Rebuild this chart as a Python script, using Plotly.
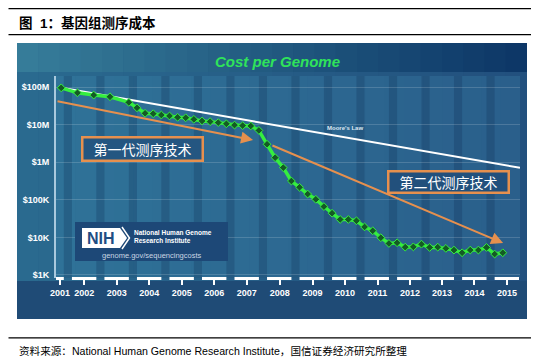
import plotly.graph_objects as go

# ---------------- data ----------------
dates = [2001.67, 2002.17, 2002.67, 2003.17, 2003.75,
         2004.00, 2004.25, 2004.50, 2004.75,
         2005.00, 2005.25, 2005.50, 2005.75,
         2006.00, 2006.25, 2006.50, 2006.75,
         2007.00, 2007.25, 2007.50, 2007.75,
         2008.00, 2008.25, 2008.50, 2008.75,
         2009.00, 2009.25, 2009.50, 2009.75,
         2010.00, 2010.25, 2010.50, 2010.75,
         2011.00, 2011.25, 2011.50, 2011.75,
         2012.00, 2012.25, 2012.50, 2012.75,
         2013.00, 2013.25, 2013.50, 2013.75,
         2014.00, 2014.25, 2014.50, 2014.75,
         2015.00, 2015.25]
cost = [95e6, 70e6, 61e6, 55e6, 39e6,
        28e6, 20e6, 19.5e6, 18e6,
        17e6, 15.6e6, 15.2e6, 13.8e6,
        12.5e6, 12e6, 11.3e6, 10.5e6,
        9.7e6, 9.4e6, 9.2e6, 7.0e6,
        3.0e6, 1.32e6, 716e3, 316e3,
        215e3, 142e3, 103e3, 66e3,
        44e3, 30e3, 30e3, 27.7e3,
        19e3, 15e3, 9.8e3, 6.9e3,
        7.2e3, 5.5e3, 5.6e3, 6.6e3,
        5.4e3, 5.5e3, 5.1e3, 4.6e3,
        3.9e3, 4.6e3, 4.6e3, 5.4e3,
        3.6e3, 3.9e3]

moore_x = [2001.67, 2015.78]
moore_y = [95e6, 7.1e5]

year_labels = ["2001", "2002", "2003", "2004", "2005", "2006", "2007", "2008",
               "2009", "2010", "2011", "2012", "2013", "2014", "2015"]
year_tick_pos = [2001.63, 2002.38, 2003.38, 2004.38, 2005.38, 2006.38, 2007.38, 2008.39,
                 2009.4, 2010.4, 2011.4, 2012.4, 2013.38, 2014.38, 2015.38]
cost_ticks = [1e3, 1e4, 1e5, 1e6, 1e7, 1e8]
cost_labels = ["$1K", "$10K", "$100K", "$1M", "$10M", "$100M"]

gen1_arrow = dict(tail=(2001.51, 7.63), head=(2007.57, 6.59))
gen2_arrow = dict(tail=(2008.12, 6.46), head=(2015.26, 3.85))

# ---------------- helpers ----------------
# the page body adds an 8px offset, so the figure is 536x352 and shifted
OFF = 8
W, H = 544 - OFF, 360 - OFF
def PX(x): return (x - OFF) / W
def PY(y): return 1 - (y - OFF) / H

def lerp_col(c1, c2, t):
    a = [int(c1[i:i + 2], 16) for i in (1, 3, 5)]
    b = [int(c2[i:i + 2], 16) for i in (1, 3, 5)]
    return "#%02x%02x%02x" % tuple(round(a[i] + (b[i] - a[i]) * t) for i in range(3))

def txt(x, y, text, size, color, family="Liberation Sans", xanchor="center", **kw):
    d = dict(xref="paper", yref="paper", x=PX(x), y=PY(y), text=text, showarrow=False,
             xanchor=xanchor, yanchor="middle",
             font=dict(family=family, size=size, color=color))
    d.update(kw)
    return d

X0, X1 = 2001.51, 2015.78
shapes = []
annos = []

# panel background
shapes.append(dict(type="rect", xref="paper", yref="paper", x0=PX(17), x1=PX(527),
                   y0=PY(319), y1=PY(43), fillcolor="#1f4b76", line=dict(width=0), layer="below"))
N = 24
for i in range(N):
    xa = 17 + (527 - 17) * i / N
    xb = 17 + (527 - 17) * (i + 1) / N + 0.6
    t = i / (N - 1)
    shapes.append(dict(type="rect", xref="paper", yref="paper", x0=PX(xa), x1=PX(min(xb, 527)),
                       y0=PY(72), y1=PY(43), fillcolor=lerp_col("#367c99", "#0d3767", t),
                       line=dict(width=0), layer="below"))
    shapes.append(dict(type="rect", xref="paper", yref="paper", x0=PX(xa), x1=PX(min(xb, 527)),
                       y0=PY(281), y1=PY(72), fillcolor=lerp_col("#2a6a8f", "#22507e", t),
                       line=dict(width=0), layer="below"))
# plot-area gradient
for i in range(N):
    xa = 56 + (520 - 56) * i / N
    xb = 56 + (520 - 56) * (i + 1) / N + 0.6
    t = i / (N - 1)
    shapes.append(dict(type="rect", xref="paper", yref="paper", x0=PX(xa), x1=PX(min(xb, 520)),
                       y0=PY(278), y1=PY(76), fillcolor=lerp_col("#2f7298", "#2a5f8b", t),
                       line=dict(width=0), layer="below"))
# darker quarterly stripes (Q4 of every year)
for yr in range(2001, 2015):
    shapes.append(dict(type="rect", xref="x", yref="paper", x0=yr + 0.75, x1=yr + 1.0,
                       y0=PY(278), y1=PY(76), fillcolor="rgba(15,45,85,0.26)",
                       line=dict(width=0), layer="below"))
# white broken baseline
segs = [(X0, 2001.75)] + [(yr, yr + 0.75) for yr in range(2002, 2016)]
for a, b in segs:
    shapes.append(dict(type="line", xref="x", yref="paper", x0=a, x1=min(b, X1),
                       y0=PY(278.5), y1=PY(278.5), line=dict(color="white", width=3)))

# rules
for yy in (8.6, 34.7, 337.8):
    shapes.append(dict(type="line", xref="paper", yref="paper", x0=PX(8.5), x1=PX(531),
                       y0=PY(yy), y1=PY(yy), line=dict(color="black", width=1.3)))

# NIH box
shapes.append(dict(type="rect", xref="paper", yref="paper", x0=PX(75), x1=PX(228),
                   y0=PY(261), y1=PY(222), fillcolor="#1d4877", line=dict(width=0)))
path = "M %f,%f L %f,%f L %f,%f L %f,%f L %f,%f Z" % (
    PX(82), PY(228), PX(120), PY(228), PX(127), PY(238), PX(120), PY(248), PX(82), PY(248))
shapes.append(dict(type="path", xref="paper", yref="paper", path=path,
                   fillcolor="white", line=dict(width=0)))
path2 = "M %f,%f L %f,%f L %f,%f" % (PX(122), PY(227), PX(129.5), PY(238), PX(122), PY(249))
shapes.append(dict(type="path", xref="paper", yref="paper", path=path2,
                   line=dict(color="white", width=1.5)))

annos.append(txt(101, 238.5, "<b>NIH</b>", 16, "#1f4d83"))
annos.append(txt(132, 236.5, "<b>National Human Genome<br>Research Institute</b>", 6.5, "white",
                 xanchor="left", align="left"))
annos.append(txt(151, 255, "genome.gov/sequencingcosts", 7.5, "#c9d6e3"))

# page title and source
annos.append(txt(17, 23, "<b>图  1：基因组测序成本</b>", 13.5, "black",
                 family="Liberation Sans, Noto Sans CJK SC", xanchor="left"))
annos.append(txt(17, 351, "资料来源：National Human Genome Research Institute，国信证券经济研究所整理",
                 10.6, "black", family="Liberation Sans, Noto Sans CJK SC", xanchor="left"))
# chart title
annos.append(txt(277, 61.5, "<b><i>Cost per Genome</i></b>", 15, "#2fe35a"))
annos.append(txt(345, 128, "<b>Moore's Law</b>", 6, "#dfe9f2"))

# orange arrows
for arr in (gen1_arrow, gen2_arrow):
    annos.append(dict(xref="x", yref="y", axref="x", ayref="y",
                      x=arr["head"][0], y=arr["head"][1], ax=arr["tail"][0], ay=arr["tail"][1],
                      text="", showarrow=True, arrowhead=2, arrowsize=1.2, arrowwidth=2,
                      arrowcolor="#e6904e", standoff=0, startstandoff=0))
# label boxes
annos.append(txt(142.5, 149, "第一代测序技术", 14, "white", family="Noto Sans CJK SC",
                 width=118, height=21, bgcolor="#245681", bordercolor="#e6904e",
                 borderwidth=2.5, borderpad=0))
annos.append(txt(448, 181.5, "第二代测序技术", 14, "white", family="Noto Sans CJK SC",
                 width=118, height=19, bgcolor="#22507c", bordercolor="#e6904e",
                 borderwidth=2.5, borderpad=0))

fig = go.Figure()
fig.add_trace(go.Scatter(x=moore_x, y=moore_y, mode="lines",
                         line=dict(color="white", width=2), hoverinfo="skip"))
fig.add_trace(go.Scatter(x=dates, y=cost, mode="lines+markers",
                         line=dict(color="#35ee3f", width=3.5),
                         marker=dict(symbol="diamond", size=6, color="#145a25",
                                     line=dict(color="#35ee3f", width=1))))

fig.update_layout(
    width=W, height=H, margin=dict(l=0, r=0, t=0, b=0, autoexpand=False),
    paper_bgcolor="white", plot_bgcolor="rgba(0,0,0,0)", showlegend=False,
    shapes=shapes, annotations=annos,
    xaxis=dict(domain=[PX(56), PX(520)], range=[X0, X1], tickvals=year_tick_pos,
               ticktext=year_labels, ticks="outside", ticklen=6, tickwidth=2, tickcolor="white",
               showgrid=False, zeroline=False, showline=False,
               tickfont=dict(family="Liberation Sans", size=9, color="white", weight="bold")),
    yaxis=dict(type="log", domain=[PY(278), PY(76)], range=[2.92, 8.293],
               tickvals=cost_ticks, ticktext=cost_labels, ticks="", ticklabelstandoff=3,
               showgrid=True, gridcolor="rgba(255,255,255,0.16)", gridwidth=1,
               zeroline=False, showline=True, linecolor="#a9c9dd", linewidth=2,
               tickfont=dict(family="Liberation Sans", size=9, color="white", weight="bold")),
)

fig.write_html("out.html")
